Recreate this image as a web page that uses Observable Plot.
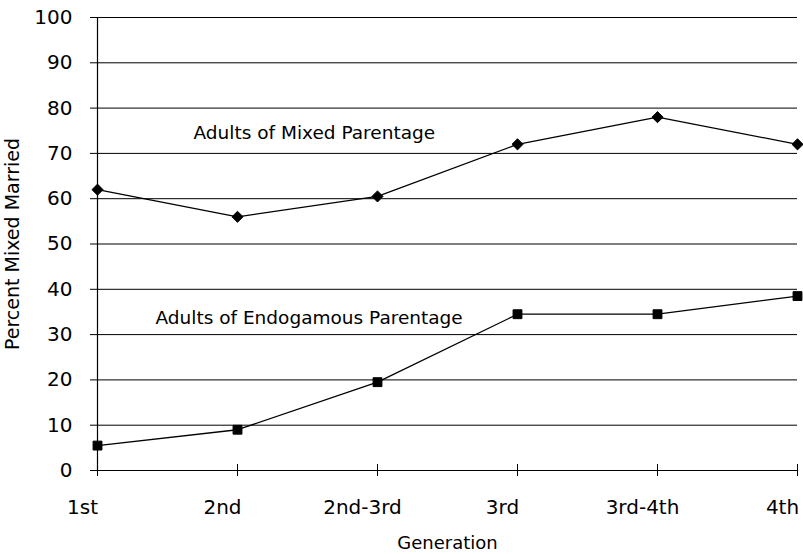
<!DOCTYPE html>
<html>
<head>
<meta charset="utf-8">
<script src="https://cdn.jsdelivr.net/npm/d3@7"></script>
<script src="https://cdn.jsdelivr.net/npm/@observablehq/plot@0.6"></script>
<style>
  html, body { margin: 0; padding: 0; background: #fff; }
  #chart svg { display: block; }
</style>
</head>
<body>
<div id="chart"></div>
<script>
const generations = ["1st", "2nd", "2nd-3rd", "3rd", "3rd-4th", "4th"];
const mixedParentage = [62, 56, 60.5, 72, 78, 72];
const endogamousParentage = [5.5, 9, 19.5, 34.5, 34.5, 38.5];
const yTicks = [0, 10, 20, 30, 40, 50, 60, 70, 80, 90, 100];
const mixedLabel = "Adults of Mixed Parentage";
const endoLabel = "Adults of Endogamous Parentage";
const mixedLabelAt = {gen: "1st", value: 74.4};
const endoLabelAt = {gen: "1st", value: 33.6};

const mixedData = generations.map((g, i) => ({gen: g, value: mixedParentage[i]}));
const endoData = generations.map((g, i) => ({gen: g, value: endogamousParentage[i]}));

const font = "DejaVu Sans, Verdana, sans-serif";

const chart = Plot.plot({
  width: 803,
  height: 554,
  marginLeft: 97,
  marginRight: 6,
  marginTop: 17,
  marginBottom: 84,
  style: {fontFamily: font, background: "#fff", color: "#000"},
  x: {type: "point", domain: generations, padding: 0},
  y: {domain: [0, 100]},
  marks: [
    Plot.gridY(yTicks, {stroke: "#000", strokeOpacity: 1, strokeWidth: 1}),
    Plot.axisY(yTicks, {tickSize: 7, tickPadding: 18, fontSize: 20, label: null, stroke: "#000"}),
    Plot.frame({anchor: "left", stroke: "#000", strokeWidth: 1.2}),
    Plot.frame({anchor: "bottom", stroke: "#000", strokeWidth: 1.2}),
    Plot.axisX({tickSize: 12, dy: -6, tickFormat: () => "", label: null, stroke: "#000"}),
    Plot.axisX({tickSize: 0, tickPadding: 29, dx: -15, fontSize: 20, label: null}),
    Plot.text(["Generation"], {frameAnchor: "bottom", dy: 78, fontSize: 18, fill: "#000"}),
    Plot.text(["Percent Mixed Married"], {frameAnchor: "left", textAnchor: "middle", lineAnchor: "middle", rotate: -90, dx: -85, fontSize: 19, fill: "#000"}),
    Plot.line(mixedData, {x: "gen", y: "value", stroke: "#000", strokeWidth: 1.3}),
    Plot.line(endoData, {x: "gen", y: "value", stroke: "#000", strokeWidth: 1.3}),
    Plot.dot(mixedData, {x: "gen", y: "value", symbol: "diamond2", r: 5, fill: "#000", stroke: "#000", strokeWidth: 1}),
    Plot.dot(endoData, {x: "gen", y: "value", symbol: "square", r: 5, fill: "#000", stroke: "#000", strokeWidth: 1}),
    Plot.text([mixedLabelAt], {x: "gen", y: "value", text: () => mixedLabel, textAnchor: "start", dx: 96, fontSize: 18.5, fill: "#000"}),
    Plot.text([endoLabelAt], {x: "gen", y: "value", text: () => endoLabel, textAnchor: "start", dx: 58, fontSize: 18.5, fill: "#000"})
  ]
});
document.getElementById("chart").appendChild(chart);
</script>
</body>
</html>
